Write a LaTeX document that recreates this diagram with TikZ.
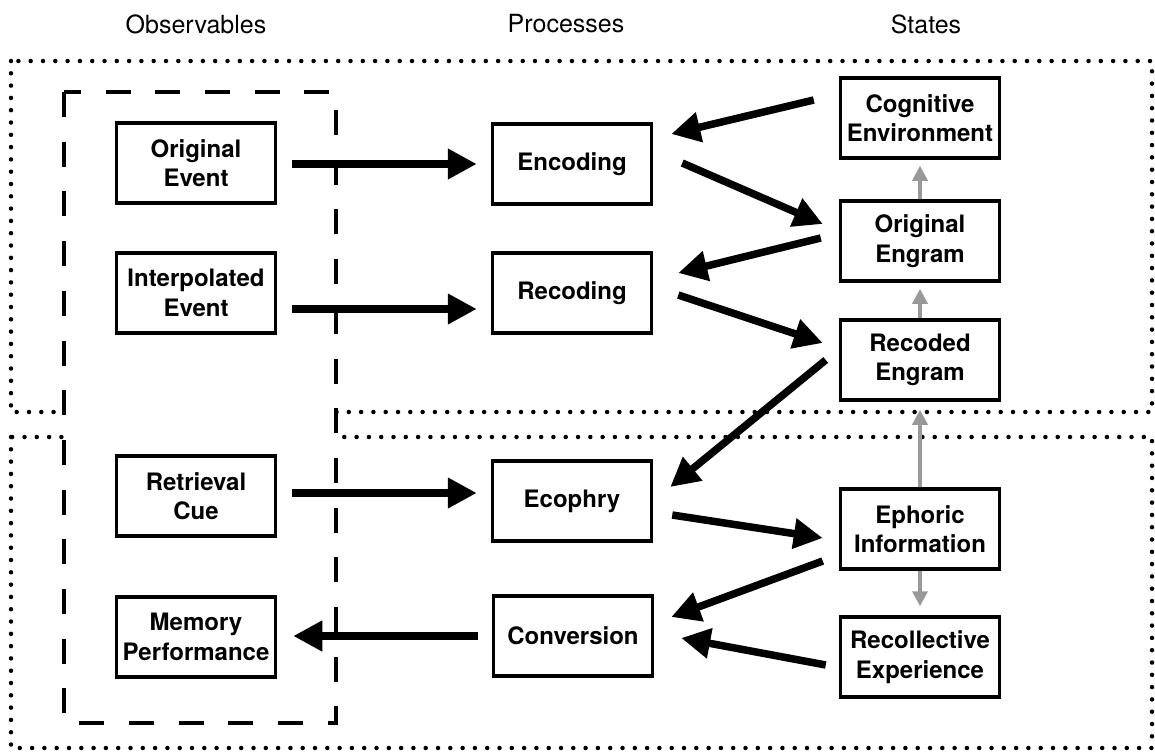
\documentclass[tikz,border=0pt]{standalone}
\usepackage{fontspec}
\setmainfont{TeX Gyre Heros}
\usetikzlibrary{arrows.meta,calc}
\definecolor{linkgray}{gray}{0.6}
\tikzset{
  box/.style={draw,line width=3.5pt,minimum width=159pt,minimum height=80pt,inner sep=0pt,
    align=center,font=\fontsize{24}{29.5}\selectfont\bfseries},
  title/.style={font=\fontsize{25}{29}\selectfont},
  flow/.style={line width=7.5pt,-{Triangle[length=29pt,width=29pt]}},
  link/.style={linkgray,line width=3.5pt,-{Triangle[length=15pt,width=15pt]}},
  zone/.style={line width=4.5pt,line cap=round,dash pattern=on 0pt off 12.3pt},
}
\newcommand\stage[3]{\node(#1)[box] at (#2) {#3};}

\begin{document}
\begin{tikzpicture}[x=1pt,y=-1pt]
    \useasboundingbox (0,0) rectangle (1155,752);
    \draw[zone] (11,61) rectangle (1152,412);
    \draw[zone] (11,437) rectangle (1152,748);
    \draw[line width=3.5pt,dash pattern=on 25pt off 24.7pt,fill=white] (64,92) rectangle (336,723);

    \node(obs)[title] at (196,24) {Observables};
    \node(pro)[title] at (566,24) {Processes};
    \node(sta)[title] at (926,24) {States};

    \stage{oev}{196,163}{Original\\Event}
    \stage{iev}{196,293}{Interpolated\\Event}
    \stage{cue}{196,496}{Retrieval\\Cue}
    \stage{mem}{196,637}{Memory\\Performance}

    \stage{enc}{572,164}{Encoding}
    \stage{rec}{572,293}{Recoding}
    \stage{eco}{572,501}{Ecophry}
    \stage{con}{573,636}{Conversion}

    \stage{cog}{920,118}{Cognitive\\Environment}
    \stage{oen}{920,241}{Original\\Engram}
    \stage{ren}{920,360}{Recoded\\Engram}
    \stage{eph}{920,529}{Ephoric\\Information}
    \stage{rex}{920,657}{Recollective\\Experience}

    \draw[flow,shorten <=15pt,shorten >=14pt] ($(oev.east)+(0,1)$) -- ($(enc.west)+(0,0)$);
    \draw[flow,shorten <=15pt,shorten >=14pt] ($(iev.east)+(0,16)$) -- ($(rec.west)+(0,16)$);
    \draw[flow,shorten <=15pt,shorten >=14pt] ($(cue.east)+(0,-3)$) -- ($(eco.west)+(0,-8)$);
    \draw[flow,shorten <=14pt,shorten >=16pt] (con.west) -- ($(mem.east)+(0,-1)$);

    \draw[flow] ($(cog.west)+(-25,-18)$) -- ($(enc.east)+(18,-30)$);
    \draw[flow] ($(enc.east)+(29,-1)$) -- ($(oen.west)+(-16,-17)$);
    \draw[flow] ($(oen.west)+(-18,-3)$) -- ($(rec.east)+(25,-20)$);
    \draw[flow] ($(rec.east)+(25,2)$) -- ($(ren.west)+(-16,-17)$);
    \draw[flow] ($(ren.west)+(-13,0)$) -- ($(eco.east)+(17,-14)$);
    \draw[flow] ($(eco.east)+(19,14)$) -- ($(eph.west)+(-16,9)$);
    \draw[flow] ($(eph.west)+(-16,32)$) -- ($(con.east)+(17,-19)$);
    \draw[flow] ($(rex.west)+(-13,8)$) -- ($(con.east)+(27,2)$);

    \draw[link,shorten >=6pt] (oen.north) -- (cog.south);
    \draw[link,shorten >=6pt] (ren.north) -- (oen.south);
    \draw[link,shorten >=8pt] (eph.north) -- (ren.south);
    \draw[link,shorten >=9pt] (eph.south) -- (rex.north);
\end{tikzpicture}
\end{document}
